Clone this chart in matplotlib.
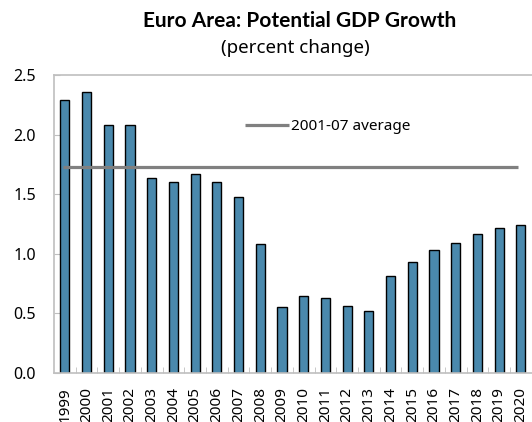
import matplotlib.pyplot as plt
import numpy as np

years = [str(y) for y in range(1999, 2021)]
growth = [2.29, 2.36, 2.08, 2.08, 1.64, 1.60, 1.67, 1.60, 1.48, 1.08,
          0.55, 0.65, 0.63, 0.56, 0.52, 0.81, 0.93, 1.03, 1.09, 1.17, 1.22, 1.24]
avg_label = '2001-07 average'
avg_value = 1.73

plt.rcParams['font.family'] = ['Noto Sans', 'DejaVu Sans']

fig = plt.figure(figsize=(5.32, 4.22), dpi=100)
ax = fig.add_axes([0.1015, 0.1161, 0.898, 0.7062])

x = np.arange(len(years))
ax.bar(x, growth, width=0.42, color='#4a89ad', edgecolor='black', linewidth=1.0, zorder=2)
ax.hlines(avg_value, -0.1, 20.85, color='#808080', linewidth=2.3, zorder=3, label=avg_label)

ax.set_xlim(-0.5, len(years) - 0.5)
ax.set_ylim(0, 2.5)
ax.set_yticks([0, 0.5, 1.0, 1.5, 2.0, 2.5])
ax.set_yticklabels(['0.0', '0.5', '1.0', '1.5', '2.0', '2.5'], fontsize=11.5)
ax.set_xticks(x)
ax.set_xticklabels(years, rotation=90, fontsize=11)
ax.set_xticks(x[:-1] + 0.5, minor=True)
ax.tick_params(axis='x', which='major', length=0, pad=10)
ax.tick_params(axis='x', which='minor', length=4, direction='in', color='#bfbfbf')
ax.tick_params(axis='y', length=4, direction='in', color='#bfbfbf', pad=13)

for side in ['left', 'top', 'bottom']:
    ax.spines[side].set_color('#bfbfbf')
    ax.spines[side].set_linewidth(1.2)
ax.spines['right'].set_visible(False)

leg = ax.legend(loc='center left', bbox_to_anchor=(0.4, 0.826), frameon=False,
                fontsize=11, handlelength=2.9, handletextpad=0.1, borderaxespad=0,
                borderpad=0)

fig.text(0.564, 0.950, 'Euro Area: Potential GDP Growth', ha='center', va='center',
         fontsize=15, fontweight='bold', family=['Lato', 'DejaVu Sans'])
fig.text(0.556, 0.886, '(percent change)', ha='center', va='center', fontsize=13.5)

fig.savefig('out.png', dpi=100)
